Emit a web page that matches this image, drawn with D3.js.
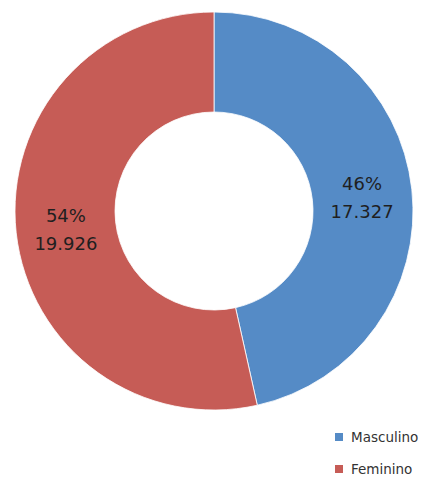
<!DOCTYPE html>
<html>
<head>
<meta charset="utf-8">
<script src="https://cdn.jsdelivr.net/npm/d3@7"></script>
<style>
  body { margin: 0; background: #fff; }
  svg { display: block; font-family: "DejaVu Sans", sans-serif; }
</style>
</head>
<body>
<div id="chartDiv"></div>
<script>
// values
let categories = ['Masculino', 'Feminino'];
let values = [17327, 19926];
let percentLabels = ['46%', '54%'];
let valueLabels = ['17.327', '19.926'];
let colors = ['#558BC6', '#C65C56'];

let width = 428, height = 477;
let cx = 214, cy = 211;
let outerR = 199, innerR = 99;

let svg = d3.select('#chartDiv')
    .append('svg')
    .attr('width', width)
    .attr('height', height);

let data = categories.map(function(c, i) {
    return {name: c, value: values[i], pct: percentLabels[i], label: valueLabels[i], color: colors[i]};
});

let pie = d3.pie()
    .sort(null)
    .value(function(d) {return d.value});

let arc = d3.arc()
    .innerRadius(innerR)
    .outerRadius(outerR);

let g = svg.append('g')
    .attr('transform', 'translate(' + cx + ',' + cy + ')');

g.selectAll('path')
    .data(pie(data))
    .enter()
    .append('path')
    .attr('d', arc)
    .attr('fill', function(d) {return d.data.color})
    .attr('stroke', '#fff')
    .attr('stroke-width', 0.8);

//two lines of label at each slice centroid
let labels = g.selectAll('text.lbl')
    .data(pie(data))
    .enter()
    .append('text')
    .attr('class', 'lbl')
    .attr('text-anchor', 'middle')
    .attr('font-size', 18)
    .attr('fill', '#1f1f1f')
    .attr('transform', function(d) {
        let c = arc.centroid(d);
        return 'translate(' + c[0] + ',' + (c[1] + 3) + ')';
    });

labels.append('tspan')
    .attr('x', 0)
    .attr('dy', -8)
    .text(function(d) {return d.data.pct});

labels.append('tspan')
    .attr('x', 0)
    .attr('dy', 28)
    .text(function(d) {return d.data.label});

//legend
let legendY = d3.scaleBand()
    .domain(categories)
    .range([421, 485]);

let legend = svg.selectAll('g.legend')
    .data(data)
    .enter()
    .append('g')
    .attr('class', 'legend')
    .attr('transform', function(d) {return 'translate(335,' + (legendY(d.name) + legendY.bandwidth() / 2) + ')'});

legend.append('rect')
    .attr('x', 0)
    .attr('y', -4)
    .attr('width', 8)
    .attr('height', 8)
    .attr('fill', function(d) {return d.color});

legend.append('text')
    .attr('x', 16)
    .attr('y', 5)
    .attr('font-size', 13.5)
    .attr('fill', '#333')
    .text(function(d) {return d.name});
</script>
</body>
</html>
